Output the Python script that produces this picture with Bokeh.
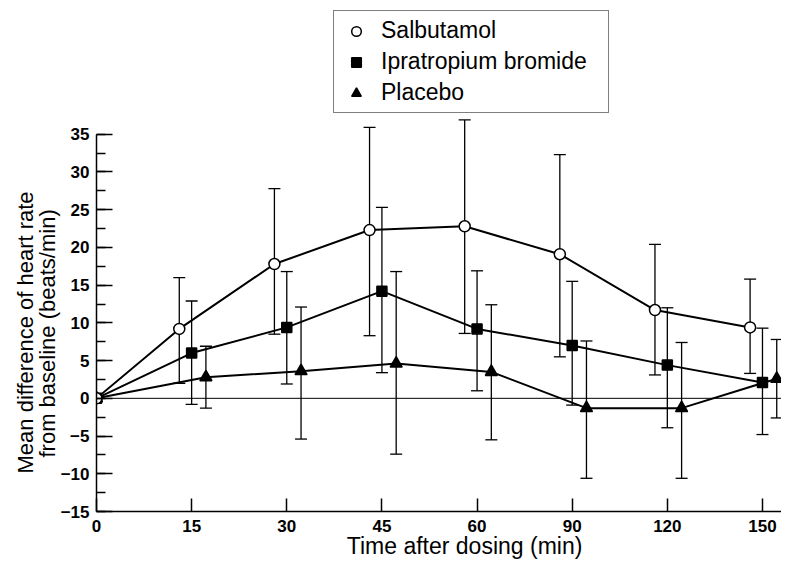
from bokeh.plotting import figure
from bokeh.models import (ColumnDataSource, Range1d, FixedTicker, SingleIntervalTicker,
                          Whisker, TeeHead, Span, Legend, LegendItem, Title)
from bokeh.embed import file_html
from bokeh.resources import INLINE

# ---- data ----
times = [0, 15, 30, 45, 60, 90, 120, 150]
time_labels = ["0", "15", "30", "45", "60", "90", "120", "150"]

salb_mean = [0, 9.2, 17.8, 22.3, 22.8, 19.1, 11.7, 9.4]
salb_upper = [None, 16.0, 27.8, 35.9, 36.9, 32.3, 20.4, 15.8]
salb_lower = [None, 2.0, 8.5, 8.3, 8.6, 5.5, 3.1, 3.3]

ipra_mean = [0, 6.0, 9.4, 14.2, 9.2, 7.0, 4.4, 2.1]
ipra_upper = [None, 12.9, 16.8, 25.3, 16.9, 15.5, 12.0, 9.3]
ipra_lower = [None, -0.8, 1.9, 3.4, 1.0, -0.9, -3.9, -4.8]

plac_mean = [0, 2.8, 3.6, 4.6, 3.5, -1.3, -1.3, 2.6]
plac_upper = [None, 6.9, 12.1, 16.8, 12.4, 7.6, 7.4, 7.8]
plac_lower = [None, -1.3, -5.4, -7.4, -5.5, -10.6, -10.6, -2.6]

y_ticks = [-15, -10, -5, 0, 5, 10, 15, 20, 25, 30, 35]
y_tick_labels = ["\u221215", "\u221210", "\u22125", "0", "5", "10", "15", "20", "25", "30", "35"]

series_names = ["Salbutamol", "Ipratropium bromide", "Placebo"]
x_title = "Time after dosing (min)"
y_title_1 = "Mean difference of heart rate"
y_title_2 = "from baseline (beats/min)"

FONT = "Liberation Sans"

# layout geometry (pixels)
W, H = 781, 561
LEFT, BOTTOM_PX, AXIS_TOP_PX = 96, 512, 134
y_lo, y_hi = y_ticks[0], y_ticks[-1]
px_per_unit = (BOTTOM_PX - AXIS_TOP_PX) / (y_hi - y_lo)
y_top = y_hi + AXIS_TOP_PX / px_per_unit   # frame reaches top of canvas

p = figure(width=W, height=H, output_backend="svg", toolbar_location=None,
           x_range=Range1d(0, 7.2), y_range=Range1d(y_lo, y_top),
           min_border_left=LEFT, min_border_right=0, min_border_top=0,
           min_border_bottom=H - BOTTOM_PX)
p.outline_line_color = None
p.xgrid.visible = False
p.ygrid.visible = False
p.background_fill_color = "white"

p.add_layout(Span(location=0, dimension="width", line_color="black", line_width=1, level="underlay"))

offsets = [-0.13, 0.0, 0.15]
markers = ["circle", "square", "triangle"]
sizes = [11, 10, 12]
fills = ["white", "black", "black"]
means = [salb_mean, ipra_mean, plac_mean]
uppers = [salb_upper, ipra_upper, plac_upper]
lowers = [salb_lower, ipra_lower, plac_lower]

srcs = []
for k in range(3):
    xs = [i + (offsets[k] if t > 0 else 0.0) for i, t in enumerate(times)]
    src = ColumnDataSource(dict(x=xs, y=means[k]))
    p.line("x", "y", source=src, line_color="black", line_width=2)
    wi = [j for j in range(len(times)) if uppers[k][j] is not None]
    wsrc = ColumnDataSource(dict(base=[xs[j] for j in wi],
                                 upper=[uppers[k][j] for j in wi],
                                 lower=[lowers[k][j] for j in wi]))
    w = Whisker(base="base", upper="upper", lower="lower", source=wsrc, dimension="height",
                line_color="black", line_width=1.3, level="underlay",
                upper_head=TeeHead(size=12, line_color="black", line_width=1.3),
                lower_head=TeeHead(size=12, line_color="black", line_width=1.3))
    p.add_layout(w)
    srcs.append(src)

rmap = {}
for k in [2, 1, 0]:
    rmap[k] = p.scatter("x", "y", source=srcs[k], marker=markers[k], size=sizes[k],
                        fill_color=fills[k], line_color="black", line_width=1.5)

# axes
p.xaxis.ticker = FixedTicker(ticks=list(range(len(times))))
p.xaxis.major_label_overrides = {i: lab for i, lab in enumerate(time_labels)}
p.xaxis.major_tick_in = 13
p.xaxis.major_tick_out = 0
p.xaxis.major_label_standoff = 8

p.yaxis.ticker = SingleIntervalTicker(interval=5, num_minor_ticks=2)
p.yaxis.bounds = (y_lo, y_hi)
p.yaxis.major_label_overrides = {t: lab for t, lab in zip(y_ticks, y_tick_labels)}
p.yaxis.major_tick_in = 16
p.yaxis.major_tick_out = 0
p.yaxis.minor_tick_in = 9
p.yaxis.minor_tick_out = 0
p.yaxis.major_label_standoff = 7

for ax in (p.xaxis, p.yaxis):
    ax.axis_line_color = "black"
    ax.axis_line_width = 1.5
    ax.major_tick_line_color = "black"
    ax.major_tick_line_width = 1.5
    ax.minor_tick_line_color = "black"
    ax.minor_tick_line_width = 1.3
    ax.major_label_text_font = FONT
    ax.major_label_text_font_size = "17px"
    ax.major_label_text_font_style = "bold"
    ax.major_label_text_color = "black"
    ax.axis_label_text_font = FONT
    ax.axis_label_text_font_style = "normal"
    ax.axis_label_text_color = "black"
p.xaxis.minor_tick_line_color = None

p.xaxis.axis_label = "\u00a0" * 8 + x_title
p.xaxis.axis_label_text_font_size = "23px"
p.xaxis.axis_label_standoff = -2

# y-axis title: two lines as left-side titles
t2 = Title(text=y_title_2, align="left", offset=54, standoff=-4, text_font=FONT,
           text_font_size="22px", text_font_style="normal", text_color="black")
t1 = Title(text=y_title_1, align="left", offset=38, standoff=-6, text_font=FONT,
           text_font_size="22px", text_font_style="normal", text_color="black")
p.add_layout(t2, "left")
p.add_layout(t1, "left")

legend = Legend(items=[LegendItem(label=series_names[k], renderers=[rmap[k]]) for k in range(3)],
                location=(333 - LEFT, BOTTOM_PX - 114))
legend.border_line_color = "black"
legend.border_line_width = 1
legend.background_fill_color = "white"
legend.background_fill_alpha = 1
legend.label_text_font = FONT
legend.label_text_font_size = "23px"
legend.label_text_color = "black"
legend.padding = 6
legend.spacing = 4
legend.label_height = 24
legend.glyph_height = 24
legend.glyph_width = 32
legend.label_standoff = 9
legend.label_width = 221
legend.margin = 0
p.add_layout(legend, "center")

open("out.html", "w").write(file_html(p, INLINE))
